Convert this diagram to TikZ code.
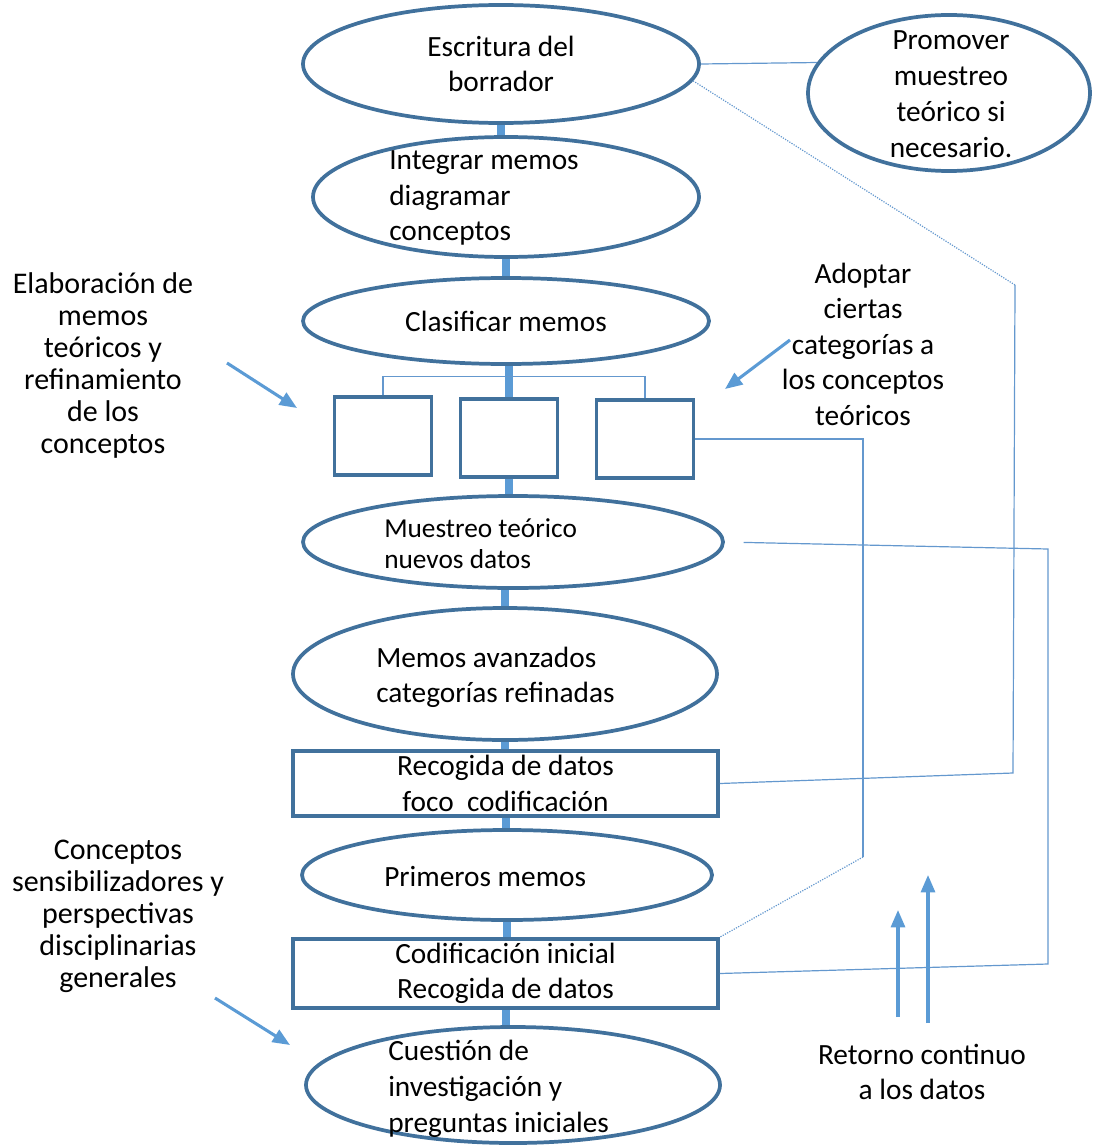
\documentclass[tikz,border=0pt]{standalone}
\usepackage{fontspec}
\setmainfont{Carlito}
\usetikzlibrary{shapes.geometric,arrows.meta,backgrounds}
\definecolor{edgeblue}{RGB}{65,113,156}
\definecolor{stemblue}{RGB}{91,155,213}
\definecolor{thinblue}{RGB}{100,152,206}
\tikzset{
  oval/.style={ellipse,draw=edgeblue,line width=2.8pt,inner sep=0pt,align=center,font=\fontsize{22}{26.5}\selectfont},
  rbox/.style={rectangle,draw=edgeblue,line width=2.8pt,inner sep=0pt,align=center,font=\fontsize{22}{26.5}\selectfont},
  txt/.style={inner sep=0pt,font=\fontsize{22}{26.5}\selectfont},
  side/.style={inner sep=0pt,align=center,font=\fontsize{22.5}{24}\selectfont},
  stem/.style={draw=stemblue,line width=6pt},
  link/.style={draw=thinblue,line width=0.9pt},
  pointer/.style={draw=stemblue,line width=2.3pt,-{Triangle[length=13pt,width=10.5pt]}},
}
\begin{document}
\begin{tikzpicture}[x=0.75pt,y=0.75pt,yscale=-1,xscale=1]
\useasboundingbox (0,0) rectangle (1092,1145);

%Shape: Ellipse [escritura]
\node [oval, minimum width=297pt, minimum height=88.5pt] (escritura) at (501,64) {Escritura del\\borrador};
%Shape: Ellipse [promover]
\node [oval, minimum width=211.5pt, minimum height=117pt] (promover) at (949,93) {};
%Shape: Ellipse [integrar]
\node [oval, minimum width=289.5pt, minimum height=90pt] (integrar) at (506,197) {};
%Shape: Ellipse [clasificar]
\node [oval, minimum width=304.5pt, minimum height=64.5pt] (clasificar) at (506,321) {Clasificar memos};
%Shape: Rectangle [boxes]
\node [rbox, minimum width=72.75pt, minimum height=58pt] (box1) at (383,436) {};
\node [rbox, minimum width=72.75pt, minimum height=59pt] (box2) at (509,438) {};
\node [rbox, minimum width=72.75pt, minimum height=58pt] (box3) at (645,439) {};
%Shape: Ellipse [muestreo]
\node [oval, minimum width=315pt, minimum height=69pt] (muestreo) at (513,542) {};
%Shape: Ellipse [avanzados]
\node [oval, minimum width=318pt, minimum height=99pt] (avanzados) at (505,674) {};
%Shape: Rectangle [recogida]
\node [rbox, minimum width=318.75pt, minimum height=48.75pt] (recogida) at (505.5,783.5) {Recogida de datos\\foco~ codificación};
%Shape: Ellipse [primeros]
\node [oval, minimum width=307.5pt, minimum height=67.5pt] (primeros) at (507,875) {};
%Shape: Rectangle [codificacion]
\node [rbox, minimum width=318.75pt, minimum height=51.75pt] (codificacion) at (505.5,973.5) {Codificación inicial\\Recogida de datos};
%Shape: Ellipse [cuestion]
\node [oval, minimum width=310.5pt, minimum height=87pt] (cuestion) at (513,1085) {};

% Text Node
\node [txt, align=center, font=\fontsize{22}{27}\selectfont] (promover-t) at (951,94) {Promover\\muestreo\\teórico si\\necesario.};
% Text Node
\node [txt, align=left, anchor=west] (integrar-t) at (389,198) {Integrar memos\\diagramar\\conceptos};
% Text Node
\node [txt, align=left, anchor=west, font=\fontsize{20.5}{23.5}\selectfont] (muestreo-t) at (384,544) {Muestreo teórico\\nuevos datos};
% Text Node
\node [txt, align=left, anchor=west] (avanzados-t) at (376,677) {Memos avanzados\\categorías refinadas};
% Text Node
\node [txt, anchor=west] (primeros-t) at (384,877) {Primeros memos};
% Text Node
\node [txt, align=left, anchor=west, font=\fontsize{22}{27}\selectfont] (cuestion-t) at (388,1089) {Cuestión de\\investigación y\\preguntas iniciales};

% Text Node
\node [side] (elaboracion) at (103,365) {Elaboración de\\memos\\teóricos y\\refinamiento\\de los\\conceptos};
% Text Node
\node [side] (sensibilizadores) at (118,916) {Conceptos\\sensibilizadores y\\perspectivas\\disciplinarias\\generales};
% Text Node
\node [txt, align=center, font=\fontsize{22}{26.6}\selectfont] (adoptar) at (863,344) {Adoptar\\ciertas\\categorías a\\los conceptos\\teóricos};
% Text Node
\node [txt, align=center] (retorno) at (922,1072) {Retorno continuo\\a los datos};

%Straight Lines [stems]
\begin{scope}[on background layer]
\draw [stem] (escritura.south) -- (escritura.south |- integrar.north);
\draw [stem] (integrar.south) -- (integrar.south |- clasificar.north);
\draw [stem] (box2.north) -- (box2.north |- clasificar.south);
\draw [stem] (box2.south) -- (box2.south |- muestreo.north);
\draw [stem] (avanzados.north) -- (avanzados.north |- muestreo.south);
\draw [stem] (avanzados.south) -- (avanzados.south |- recogida.north);
\draw [stem] (recogida.south) -- (recogida.south |- primeros.north);
\draw [stem] (primeros.south) -- (primeros.south |- codificacion.north);
\draw [stem] (codificacion.south) -- (codificacion.south |- cuestion.north);
\end{scope}

%Straight Lines [links]
\coordinate (bendA) at (1015,285);
\coordinate (bendB) at (1013,773);
\coordinate (bendC) at (863,857);
\coordinate (bendD) at (1048,549);
\coordinate (bendE) at (1048,964);
\draw [link] (escritura.east) -- (promover.167);
\draw [link, densely dotted] (escritura.-5) -- (bendA);
\draw [link] (bendA) -- (bendB) -- (recogida.east);
\draw [link] (box1.north) -- ++(0,-19) -| (box3.north);
\draw [link] (box3.east) -| (bendC);
\draw [link, densely dotted] (bendC) -- (codificacion.north east);
\draw [link, shorten <=14pt] (muestreo.east) -- (bendD) -- (bendE) -- (codificacion.east);

%Arrows
\coordinate (elabTip) at (297,408);
\coordinate (elabTail) at (227,363);
\coordinate (adoptTip) at (725,389);
\coordinate (adoptTail) at (790,340);
\coordinate (sensTip) at (290,1045);
\coordinate (sensTail) at (215,998);
\coordinate (retA) at (898,1017);
\coordinate (retAtip) at (898,910);
\coordinate (retB) at (928,1023);
\coordinate (retBtip) at (928,875);
\draw [pointer] (elabTail) -- (elabTip);
\draw [pointer] (adoptTail) -- (adoptTip);
\draw [pointer] (sensTail) -- (sensTip);
\draw [pointer] (retA) -- (retAtip);
\draw [pointer] (retB) -- (retBtip);

\end{tikzpicture}
\end{document}
